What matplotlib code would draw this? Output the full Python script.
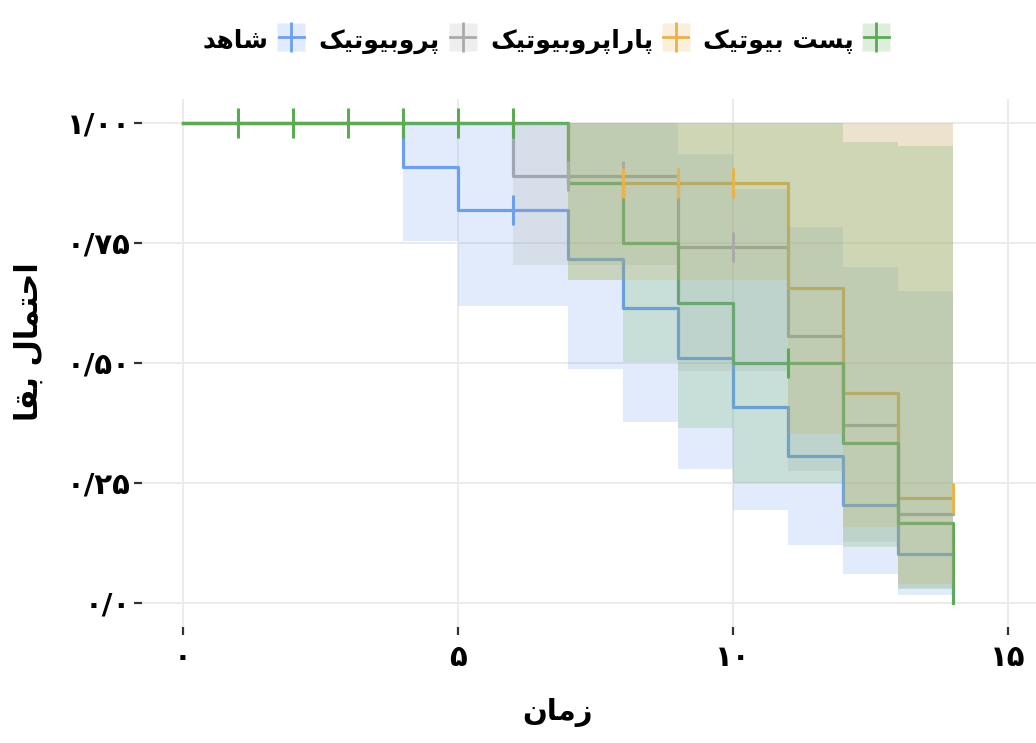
import numpy as np
import matplotlib
matplotlib.use("Agg")
import matplotlib.pyplot as plt
from matplotlib.colors import to_rgba
from matplotlib.lines import Line2D
from matplotlib.legend_handler import HandlerTuple

plt.rcParams['font.family'] = ['DejaVu Sans']
plt.rcParams['font.weight'] = 'bold'

# --- survival curves (time, survival, lower/upper CI) ---
ctrl_t = [0, 4, 5, 7, 8, 9, 10, 11, 12, 13, 14]
ctrl_s = [1.0, 0.909, 0.818, 0.716, 0.614, 0.511, 0.409, 0.307, 0.204, 0.102, 0.102]
ctrl_lo = [1.0, 0.754, 0.619, 0.488, 0.377, 0.279, 0.194, 0.120, 0.060, 0.016, 0.016]
ctrl_hi = [1.0, 1.0, 1.0, 1.0, 1.0, 0.936, 0.863, 0.783, 0.700, 0.650, 0.650]
ctrl_cens_t = [6]
ctrl_cens_s = [0.818]

pro_t = [0, 6, 9, 11, 12, 13, 14]
pro_s = [1.0, 0.889, 0.741, 0.556, 0.370, 0.185, 0.185]
pro_lo = [1.0, 0.705, 0.484, 0.274, 0.127, 0.032, 0.032]
pro_hi = [1.0, 1.0, 1.0, 1.0, 1.0, 1.0, 1.0]
pro_cens_t = [7, 8, 10]
pro_cens_s = [0.889, 0.889, 0.741]

para_t = [0, 7, 11, 12, 13, 14]
para_s = [1.0, 0.875, 0.656, 0.438, 0.219, 0.219]
para_lo = [1.0, 0.673, 0.352, 0.159, 0.039, 0.039]
para_hi = [1.0, 1.0, 1.0, 1.0, 1.0, 1.0]
para_cens_t = [8, 9, 10, 14]
para_cens_s = [0.875, 0.875, 0.875, 0.219]

post_t = [0, 7, 8, 9, 10, 12, 13, 14]
post_s = [1.0, 0.875, 0.75, 0.625, 0.5, 0.333, 0.167, 0.0]
post_lo = [1.0, 0.673, 0.503, 0.365, 0.25, 0.116, 0.029, 0.029]
post_hi = [1.0, 1.0, 1.0, 1.0, 1.0, 0.960, 0.953, 0.953]
post_cens_t = [1, 2, 3, 4, 5, 6, 11]
post_cens_s = [1.0, 1.0, 1.0, 1.0, 1.0, 1.0, 0.5]

names = ["شاهد", "پروبیوتیک", "پاراپروبیوتیک", "پست بیوتیک"]
colors = ["#6E9FEB", "#AAAAAA", "#E8B24C", "#5DAA55"]

x_ticks = [0, 5, 10, 15]
x_labels = ["۰", "۵", "۱۰", "۱۵"]
y_ticks = [0, 0.25, 0.5, 0.75, 1.0]
y_labels = ["۰/۰", "۰/۲۵", "۰/۵۰", "۰/۷۵", "۱/۰۰"]

# --- minimal Persian shaping: presentation forms (iso, fin, ini, med), then reverse ---
FORMS = {
    'ا': ('\uFE8D', '\uFE8E', None, None),
    'ب': ('\uFE8F', '\uFE90', '\uFE91', '\uFE92'),
    'پ': ('\uFB56', '\uFB57', '\uFB58', '\uFB59'),
    'ت': ('\uFE95', '\uFE96', '\uFE97', '\uFE98'),
    'ح': ('\uFEA1', '\uFEA2', '\uFEA3', '\uFEA4'),
    'د': ('\uFEA9', '\uFEAA', None, None),
    'ر': ('\uFEAD', '\uFEAE', None, None),
    'ز': ('\uFEAF', '\uFEB0', None, None),
    'س': ('\uFEB1', '\uFEB2', '\uFEB3', '\uFEB4'),
    'ش': ('\uFEB5', '\uFEB6', '\uFEB7', '\uFEB8'),
    'ق': ('\uFED5', '\uFED6', '\uFED7', '\uFED8'),
    'ک': ('\uFB8E', '\uFB8F', '\uFB90', '\uFB91'),
    'ل': ('\uFEDD', '\uFEDE', '\uFEDF', '\uFEE0'),
    'م': ('\uFEE1', '\uFEE2', '\uFEE3', '\uFEE4'),
    'ن': ('\uFEE5', '\uFEE6', '\uFEE7', '\uFEE8'),
    'ه': ('\uFEE9', '\uFEEA', '\uFEEB', '\uFEEC'),
    'و': ('\uFEED', '\uFEEE', None, None),
    'ی': ('\uFBFC', '\uFBFD', '\uFBFE', '\uFBFF'),
}


def fa(text):
    out = []
    for i, ch in enumerate(text):
        if ch not in FORMS:
            out.append(ch)
            continue
        iso, fin, ini, med = FORMS[ch]
        prev = text[i - 1] if i > 0 else ''
        nxt = text[i + 1] if i + 1 < len(text) else ''
        jp = prev in FORMS and FORMS[prev][2] is not None
        jn = ini is not None and nxt in FORMS
        if jp and jn:
            out.append(med)
        elif jp:
            out.append(fin)
        elif jn:
            out.append(ini)
        else:
            out.append(iso)
    return ''.join(reversed(out))


fig = plt.figure(figsize=(10.36, 7.43), dpi=100)
ax = fig.add_axes([141.75 / 1036, 116 / 743, 907.5 / 1036, 528 / 743])

groups = [
    (ctrl_t, ctrl_s, ctrl_lo, ctrl_hi, ctrl_cens_t, ctrl_cens_s),
    (pro_t, pro_s, pro_lo, pro_hi, pro_cens_t, pro_cens_s),
    (para_t, para_s, para_lo, para_hi, para_cens_t, para_cens_s),
    (post_t, post_s, post_lo, post_hi, post_cens_t, post_cens_s),
]

# lines first, then ribbons over them, then censor ticks on top
for (t, s, lo, hi, ct, cs), c in zip(groups, colors):
    ax.step(t, s, where='post', color=c, lw=2.3, zorder=2)
for (t, s, lo, hi, ct, cs), c in zip(groups, colors):
    ax.fill_between(t, lo, hi, step='post', color=c, alpha=0.2, lw=0, zorder=3)
for (t, s, lo, hi, ct, cs), c in zip(groups, colors):
    ax.plot(ct, cs, ls='none', marker='|', ms=21, mew=2.2, color=c, zorder=4)

ax.set_xlim(-0.75, 15.75)
ax.set_ylim(-0.05, 1.05)
ax.set_xticks(x_ticks)
ax.set_xticklabels(x_labels)
ax.set_yticks(y_ticks)
ax.set_yticklabels(y_labels)
ax.grid(True, color='#EBEBEB', lw=1.5, zorder=0)
ax.set_axisbelow(True)
for sp in ax.spines.values():
    sp.set_visible(False)
ax.tick_params(axis='both', length=6, width=1.6, color='#333333', labelsize=21, labelcolor='black')
ax.tick_params(axis='y', pad=2)
ax.tick_params(axis='x', pad=6)

ax.set_xlabel(fa("زمان"), fontsize=21, fontweight='bold')
ax.set_ylabel(fa("احتمال بقا"), fontsize=22, fontweight='bold')
ax.xaxis.set_label_coords(0.458, -0.135)
ax.yaxis.set_label_coords(-0.108, 0.54)

# legend keys: light square with a "+" in the group colour
handles = []
for c in colors:
    box = Line2D([0], [0], ls='none', marker='s', ms=20, mfc=to_rgba(c, 0.2), mec='none')
    plus = Line2D([0], [0], color=c, lw=2, marker='|', ms=22, mew=2)
    handles.append((box, plus))
fig.legend(handles, [fa(n) for n in names], handler_map={tuple: HandlerTuple(ndivide=1, pad=0)},
           loc='center', bbox_to_anchor=(0.527, 0.946), ncol=4, frameon=False,
           markerfirst=False, fontsize=18, handlelength=1.0, handleheight=1.2,
           handletextpad=0.4, columnspacing=0.6)

fig.savefig("out.png", dpi=100)
